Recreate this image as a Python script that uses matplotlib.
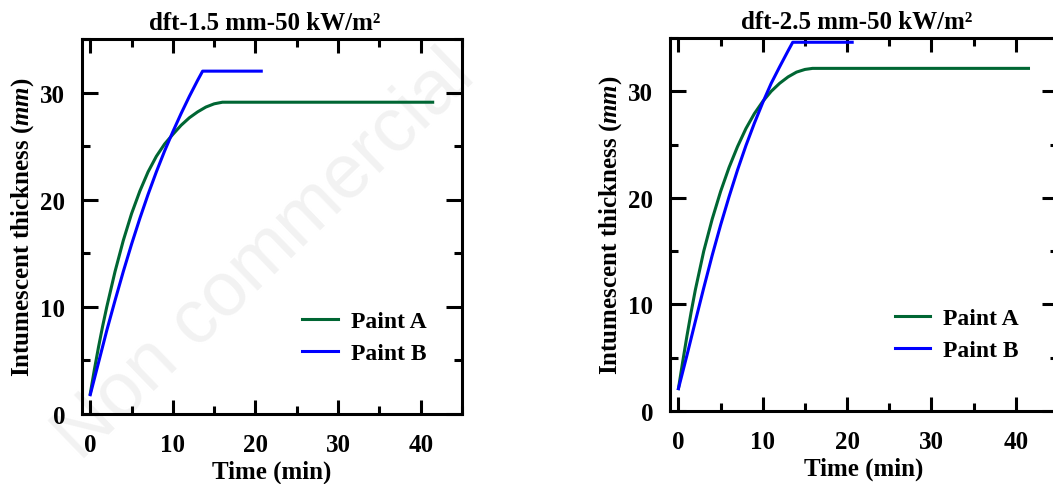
import matplotlib
matplotlib.use('Agg')
import matplotlib.pyplot as plt
from matplotlib.ticker import MultipleLocator

# Panel 1: dft 1.5 mm
t_a1 = [0, 0.5, 1, 1.5, 2, 3, 4, 5, 6, 7, 8, 9, 10, 11, 12, 13, 14, 15, 16, 41.45]
v_a1 = [1.9, 4.15, 6.25, 8.2, 10.0, 13.3, 16.2, 18.7, 20.8, 22.6, 24.05, 25.2, 26.1, 26.95,
        27.65, 28.2, 28.65, 28.95, 29.1, 29.1]
t_b1 = [0, 1, 2, 3, 4, 5, 6, 7, 8, 9, 10, 11, 12, 13, 13.6, 20.7]
v_b1 = [1.8, 4.8, 7.8, 10.6, 13.3, 15.85, 18.25, 20.5, 22.6, 24.55, 26.35, 28.05, 29.65,
        31.15, 32.0, 32.0]

# Panel 2: dft 2.5 mm
t_a2 = [0, 0.5, 1, 1.5, 2, 3, 4, 5, 6, 7, 8, 9, 10, 11, 12, 13, 14, 15, 15.9, 41.5]
v_a2 = [2.1, 4.6, 7.0, 9.25, 11.35, 15.0, 18.0, 20.6, 22.85, 24.8, 26.5, 27.9, 29.05, 30.0,
        30.75, 31.35, 31.8, 32.05, 32.15, 32.15]
t_b2 = [0, 1, 2, 3, 4, 5, 6, 7, 8, 9, 10, 11, 12, 13, 13.55, 20.6]
v_b2 = [2.1, 5.2, 8.4, 11.55, 14.6, 17.45, 20.1, 22.6, 24.9, 27.0, 28.95, 30.75, 32.3,
        33.8, 34.6, 34.6]

titles = ['dft-1.5 mm-50 kW/m²', 'dft-2.5 mm-50 kW/m²']
green = '#006633'
blue = '#0000ff'

plt.rcParams['font.family'] = 'Liberation Serif'
plt.rcParams['font.weight'] = 'bold'
plt.rcParams['mathtext.fontset'] = 'custom'
plt.rcParams['mathtext.it'] = 'Liberation Serif:italic:bold'

fig = plt.figure(figsize=(10.53, 4.85), dpi=100)

# faint watermark behind everything
fig.text(80 / 1053, (485 - 462) / 485, 'Non commercial', family='Liberation Sans',
         fontweight='normal', fontsize=55, color='#f2f2f2', rotation=44,
         rotation_mode='anchor', ha='left', va='baseline', zorder=-1)

ax1 = fig.add_axes([82 / 1053, 70 / 485, 380 / 1053, 375 / 485])
ax2 = fig.add_axes([670 / 1053, 73 / 485, 388 / 1053, 373 / 485])

data = [(t_a1, v_a1, t_b1, v_b1), (t_a2, v_a2, t_b2, v_b2)]

for ax, (ta, va, tb, vb), title in zip([ax1, ax2], data, titles):
    ax.set_facecolor('none')
    ax.plot(ta, va, color=green, lw=2.2, label='Paint A')
    ax.plot(tb, vb, color=blue, lw=2.2, label='Paint B')
    ax.set_xlim(-1, 45)
    ax.set_ylim(0, 35)
    ax.xaxis.set_major_locator(MultipleLocator(10))
    ax.xaxis.set_minor_locator(MultipleLocator(5))
    ax.yaxis.set_major_locator(MultipleLocator(10))
    ax.yaxis.set_minor_locator(MultipleLocator(5))
    ax.tick_params(which='both', direction='in', top=True, right=True, width=2.2,
                   labelsize=18)
    ax.tick_params(axis='x', which='major', length=10, pad=14)
    ax.tick_params(axis='y', which='major', length=11.5, pad=12)
    ax.tick_params(which='minor', length=5.5)
    for s in ax.spines.values():
        s.set_linewidth(2.2)
    ax.set_xlabel('Time (min)', fontsize=18, fontweight='bold', labelpad=2)
    ax.set_ylabel(r'Intumescent thickness ($\mathit{mm}$)', fontsize=18,
                  fontweight='bold', labelpad=3)
    ax.set_title(title, fontsize=18, fontweight='bold', pad=7, x=0.48)
    ax.legend(loc='center left', bbox_to_anchor=(0.58, 0.205), frameon=False,
              fontsize=17, handlelength=1.5, handletextpad=0.55, labelspacing=0.45,
              borderpad=0, borderaxespad=0)

fig.savefig('out.png', dpi=100)
